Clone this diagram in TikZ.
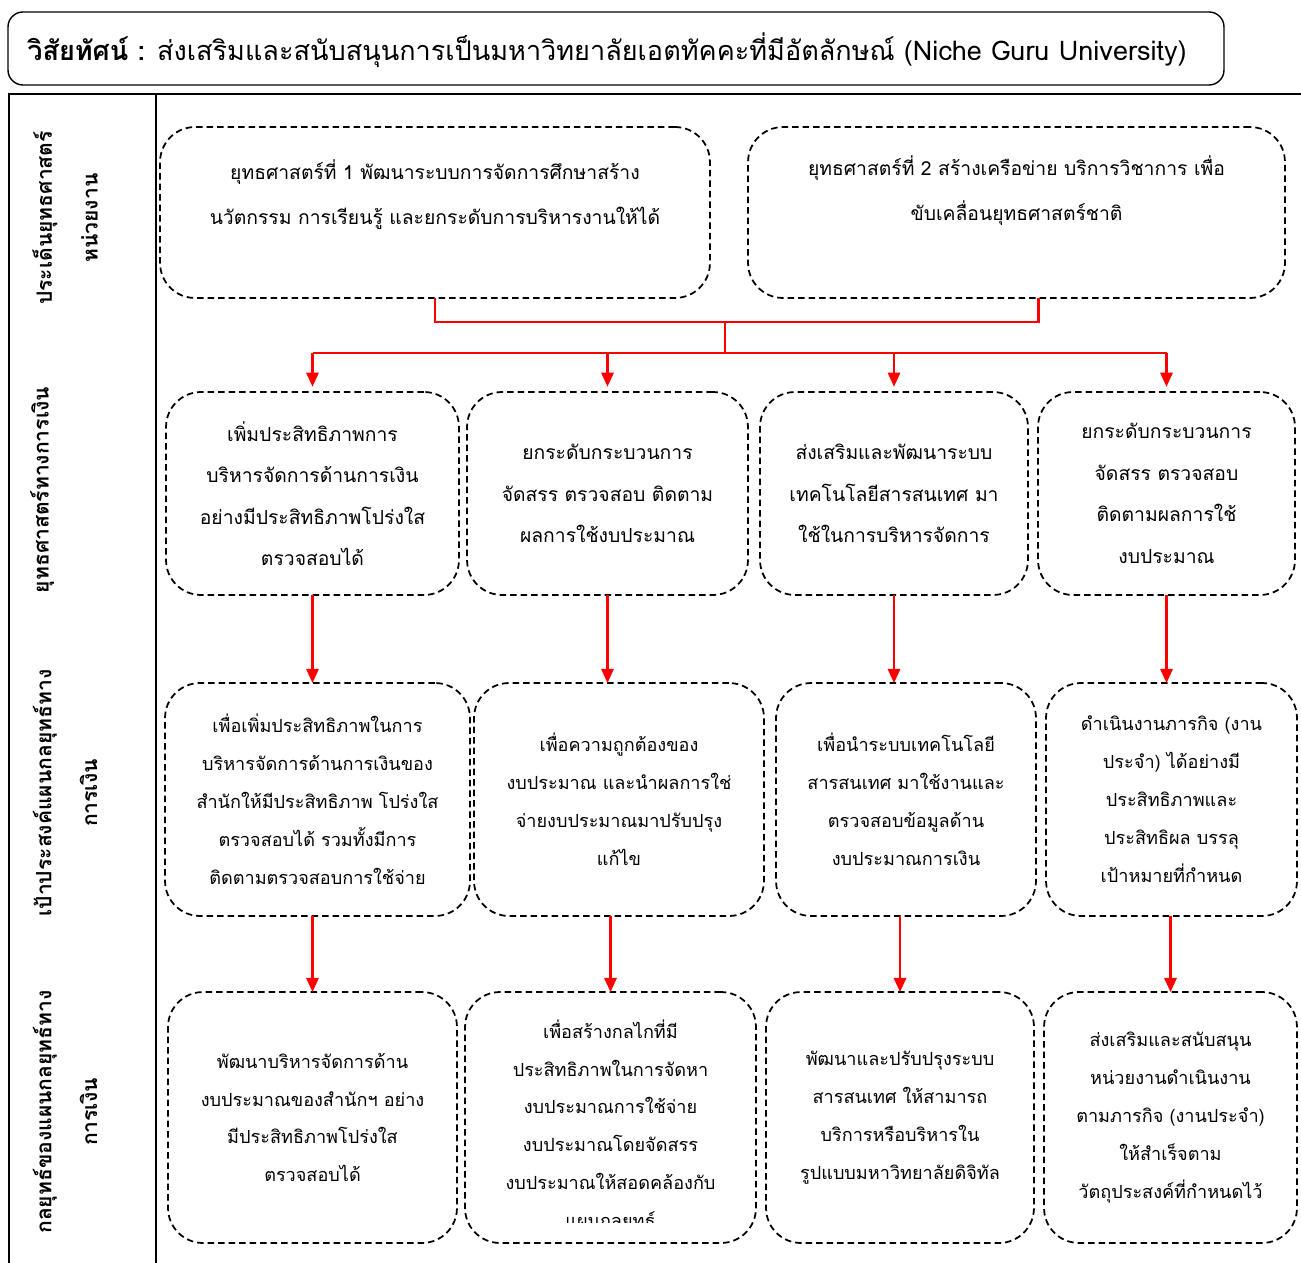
\documentclass[tikz,border=0pt]{standalone}
\usepackage{fontspec}
\newfontfamily\thaifont[Script=Thai]{Loma}
\usetikzlibrary{arrows.meta}
\tikzstyle{box}=[draw,rounded corners=0.7cm,line width=1pt,dash pattern=on 0.13cm off 0.08cm,align=center,inner sep=0,outer sep=0,font=\thaifont\fontsize{10.3}{21.6}\selectfont]
\tikzstyle{rowtwo}=[box,font=\thaifont\fontsize{11}{23.6}\selectfont]
\tikzstyle{boxtext}=[align=center,inner sep=0,font=\thaifont\fontsize{10.3}{21.6}\selectfont]
\tikzstyle{side}=[rotate=90,align=center,font=\thaifont\bfseries\fontsize{12}{26}\selectfont]
\tikzstyle{tree}=[red,line width=1.2pt]
\tikzstyle{arrow}=[tree,-{Triangle[length=8pt,width=7pt]}]

\begin{document}
\begin{tikzpicture}[x=0.02cm,y=-0.02cm]
\useasboundingbox (0,0) rectangle (1301,1263);

\draw[line width=0.8pt,rounded corners=0.3cm] (8,12) rectangle (1224,85);
\node[font=\thaifont\fontsize{15.4}{18}\selectfont] (vision) at (607,50) {\textbf{วิสัยทัศน์ :} ส่งเสริมและสนับสนุนการเป็นมหาวิทยาลัยเอตทัคคะที่มีอัตลักษณ์ (Niche Guru University)};

\draw[line width=1.4pt] (9,1263) -- (9,94) -- (1301,94);
\draw[line width=1.4pt] (156,94) -- (156,1263);

\node[side] (issue) at (65,218) {ประเด็นยุทธศาสตร์\\หน่วยงาน};
\node[side] (strat) at (42,490) {ยุทธศาสตร์ทางการเงิน};
\node[side] (goal) at (65,793) {เป้าประสงค์แผนกลยุทธ์ทาง\\การเงิน};
\node[side] (plan) at (65,1112) {กลยุทธ์ของแผนกลยุทธ์ทาง\\การเงิน};

\node[box,minimum width=11cm,minimum height=3.42cm] (s1) at (435,212.5) {};
\node[box,minimum width=10.74cm,minimum height=3.42cm] (s2) at (1016.5,212.5) {};
\node[boxtext,font=\thaifont\fontsize{11}{25.6}\selectfont] (s1text) at (435,194.5) {ยุทธศาสตร์ที่ 1 พัฒนาระบบการจัดการศึกษาสร้าง\\นวัตกรรม การเรียนรู้ และยกระดับการบริหารงานให้ได้};
\node[boxtext,font=\thaifont\fontsize{11}{25.6}\selectfont] (s2text) at (1016.5,190.5) {ยุทธศาสตร์ที่ 2 สร้างเครือข่าย บริการวิชาการ เพื่อ\\ขับเคลื่อนยุทธศาสตร์ชาติ};

\node[rowtwo,minimum width=5.86cm,minimum height=4.06cm] (r2a) at (312.5,493.5) {เพิ่มประสิทธิภาพการ\\บริหารจัดการด้านการเงิน\\อย่างมีประสิทธิภาพโปร่งใส\\ตรวจสอบได้};
\node[rowtwo,minimum width=5.62cm,minimum height=4.06cm] (r2b) at (607.5,493.5) {ยกระดับกระบวนการ\\จัดสรร ตรวจสอบ ติดตาม\\ผลการใช้งบประมาณ};
\node[rowtwo,minimum width=5.36cm,minimum height=4.06cm] (r2c) at (894,493.5) {ส่งเสริมและพัฒนาระบบ\\เทคโนโลยีสารสนเทศ มา\\ใช้ในการบริหารจัดการ};
\node[rowtwo,minimum width=5.14cm,minimum height=4.06cm] (r2d) at (1166.5,493.5) {ยกระดับกระบวนการ\\จัดสรร ตรวจสอบ\\ติดตามผลการใช้\\งบประมาณ};

\node[box,minimum width=6.1cm,minimum height=4.66cm] (r3a) at (317.5,799.5) {เพื่อเพิ่มประสิทธิภาพในการ\\บริหารจัดการด้านการเงินของ\\สำนักให้มีประสิทธิภาพ โปร่งใส\\ตรวจสอบได้ รวมทั้งมีการ\\ติดตามตรวจสอบการใช้จ่าย};
\node[box,minimum width=5.8cm,minimum height=4.66cm] (r3b) at (619,799.5) {เพื่อความถูกต้องของ\\งบประมาณ และนำผลการใช่\\จ่ายงบประมาณมาปรับปรุง\\แก้ไข};
\node[box,minimum width=5.2cm,minimum height=4.66cm] (r3c) at (906,799.5) {เพื่อนำระบบเทคโนโลยี\\สารสนเทศ มาใช้งานและ\\ตรวจสอบข้อมูลด้าน\\งบประมาณการเงิน};
\node[box,minimum width=5.02cm,minimum height=4.66cm] (r3d) at (1171.5,799.5) {ดำเนินงานภารกิจ (งาน\\ประจำ) ได้อย่างมี\\ประสิทธิภาพและ\\ประสิทธิผล บรรลุ\\เป้าหมายที่กำหนด};

\node[box,minimum width=5.78cm,minimum height=5.02cm] (r4a) at (312.5,1117.5) {พัฒนาบริหารจัดการด้าน\\งบประมาณของสำนักฯ อย่าง\\มีประสิทธิภาพโปร่งใส\\ตรวจสอบได้};
\node[box,minimum width=5.82cm,minimum height=5.02cm] (r4b) at (610.5,1117.5) {};
\node[box,minimum width=5.36cm,minimum height=5.02cm] (r4c) at (900,1117.5) {พัฒนาและปรับปรุงระบบ\\สารสนเทศ ให้สามารถ\\บริการหรือบริหารใน\\รูปแบบมหาวิทยาลัยดิจิทัล};
\node[box,minimum width=5.06cm,minimum height=5.02cm] (r4d) at (1170.5,1117.5) {ส่งเสริมและสนับสนุน\\หน่วยงานดำเนินงาน\\ตามภารกิจ (งานประจำ)\\ให้สำเร็จตาม\\วัตถุประสงค์ที่กำหนดไว้};
\begin{scope}
\clip (465,992) rectangle (756,1222);
\node[boxtext] (r4btext) at (610.5,1126) {เพื่อสร้างกลไกที่มี\\ประสิทธิภาพในการจัดหา\\งบประมาณการใช้จ่าย\\งบประมาณโดยจัดสรร\\งบประมาณให้สอดคล้องกับ\\แผนกลยุทธ์};
\end{scope}

\coordinate (join) at (725,322);
\coordinate (bar) at (725,353);
\draw[tree] (s1.south) |- (join);
\draw[tree] ([xshift=0.44cm]s2.south) |- (join);
\draw[tree] (join) -- (bar);
\draw[tree] (r2a.north |- bar) -- (r2d.north |- bar);
\foreach \c in {a,b,c,d}{
\draw[arrow,shorten >=3pt] (r2\c.north |- bar) -- (r2\c.north);
\draw[arrow] (r2\c.south) -- (r2\c.south |- r3\c.north);
\draw[arrow] (r4\c.north |- r3\c.south) -- (r4\c.north);
}

\end{tikzpicture}
\end{document}
